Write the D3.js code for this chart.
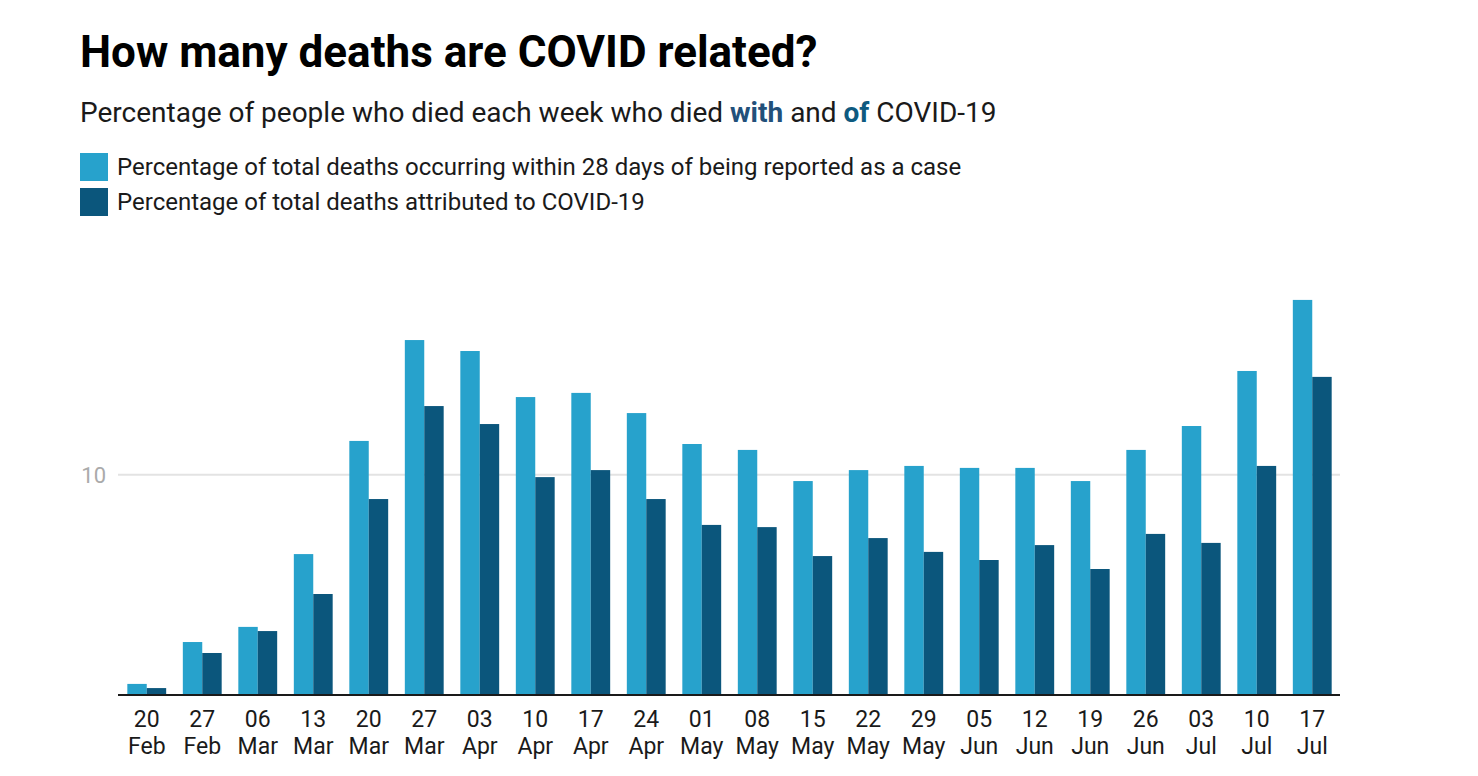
<!DOCTYPE html>
<html>
<head>
<meta charset="utf-8">
<script src="https://cdn.jsdelivr.net/npm/d3@7"></script>
<style>
  html, body { margin: 0; padding: 0; background: #fff; }
  svg { display: block; font-family: Roboto, "Noto Sans", sans-serif; }
</style>
</head>
<body>
<svg id="chart" width="1478" height="776"></svg>
<script>
const days = ["20","27","06","13","20","27","03","10","17","24","01","08","15","22","29","05","12","19","26","03","10","17"];
const months = ["Feb","Feb","Mar","Mar","Mar","Mar","Apr","Apr","Apr","Apr","May","May","May","May","May","Jun","Jun","Jun","Jun","Jul","Jul","Jul"];
const withinCase = [0.46,2.37,3.06,6.38,11.54,16.14,15.64,13.54,13.73,12.81,11.40,11.13,9.71,10.21,10.40,10.31,10.31,9.71,11.13,12.22,14.73,17.97];
const attributed = [0.27,1.87,2.87,4.56,8.89,13.13,12.31,9.89,10.21,8.89,7.71,7.61,6.29,7.11,6.48,6.11,6.79,5.70,7.30,6.89,10.40,14.46];
const seriesNames = ["Percentage of total deaths occurring within 28 days of being reported as a case","Percentage of total deaths attributed to COVID-19"];
const yTicks = [10];
const colors = ["#27a2cc", "#0b567c"];

const categories = days.map((d, i) => d + " " + months[i]);
const svg = d3.select("#chart");

// Title & subtitle
svg.append("text").attr("x", 80).attr("y", 67)
  .attr("font-size", 44).attr("font-weight", 700).attr("fill", "#000")
  .text("How many deaths are COVID related?");
const sub = svg.append("text").attr("x", 80).attr("y", 122)
  .attr("font-size", 28).attr("fill", "#1a1a1a");
sub.append("tspan").text("Percentage of people who died each week who died ");
sub.append("tspan").attr("font-weight", 700).attr("fill", "#22507a").text("with");
sub.append("tspan").text(" and ");
sub.append("tspan").attr("font-weight", 700).attr("fill", "#0e5a80").text("of");
sub.append("tspan").text(" COVID-19");

// Legend
const leg = svg.append("g");
seriesNames.forEach((name, i) => {
  const g = leg.append("g").attr("transform", `translate(80,${153 + i * 35})`);
  g.append("rect").attr("width", 28).attr("height", 28).attr("fill", colors[i]);
  g.append("text").attr("x", 37).attr("y", 22).attr("font-size", 24).attr("fill", "#1a1a1a").text(name);
});

// Scales
const x = d3.scaleBand().domain(categories).range([119, 1340]).paddingInner(0.3).paddingOuter(0.15);
const xSub = d3.scaleBand().domain([0, 1]).range([0, x.bandwidth()]);
const y = d3.scaleLinear().domain([0, 20]).range([694, 255.4]);

// Grid
svg.append("g").selectAll("line").data(yTicks).join("line")
  .attr("x1", 118).attr("x2", 1340)
  .attr("y1", d => y(d)).attr("y2", d => y(d))
  .attr("stroke", "#e3e3e3").attr("stroke-width", 2);
svg.append("g").selectAll("text").data(yTicks).join("text")
  .attr("x", 106).attr("y", d => y(d) + 8)
  .attr("text-anchor", "end").attr("font-size", 22).attr("fill", "#aaaaaa")
  .text(d => d);

// Bars
const series = [withinCase, attributed];
series.forEach((vals, s) => {
  svg.append("g").selectAll("rect").data(vals).join("rect")
    .attr("x", (d, i) => x(categories[i]) + xSub(s))
    .attr("width", xSub.bandwidth())
    .attr("y", d => y(d))
    .attr("height", d => y(0) - y(d))
    .attr("fill", colors[s]);
});

// Axis line
svg.append("line").attr("x1", 118).attr("x2", 1340)
  .attr("y1", y(0) + 1).attr("y2", y(0) + 1)
  .attr("stroke", "#1a1a1a").attr("stroke-width", 2.2);

// X labels
const xl = svg.append("g").selectAll("text").data(categories).join("text")
  .attr("text-anchor", "middle").attr("font-size", 23).attr("fill", "#1a1a1a")
  .attr("transform", d => `translate(${x(d) + x.bandwidth() / 2},0)`);
xl.append("tspan").attr("x", 0).attr("y", 727).text((d, i) => days[i]);
xl.append("tspan").attr("x", 0).attr("y", 754).text((d, i) => months[i]);
</script>
</body>
</html>
